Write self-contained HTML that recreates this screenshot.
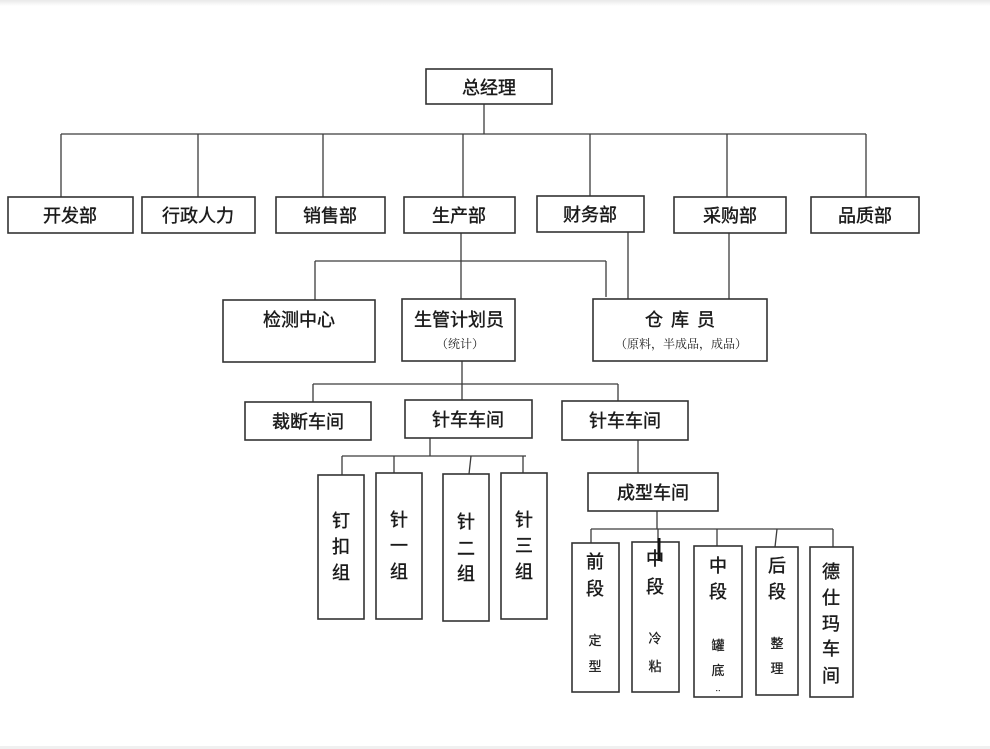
<!DOCTYPE html>
<html>
<head>
<meta charset="utf-8">
<style>
  html,body{margin:0;padding:0;background:#fff;}
  body{width:990px;height:749px;overflow:hidden;}
  svg{display:block;}
  text{font-family:"Liberation Sans","Noto Sans CJK SC",sans-serif;fill:#1a1a1a;}
  .t{font-size:18px;text-anchor:middle;stroke:#1a1a1a;stroke-width:0.4px;}
  .s{font-size:12px;text-anchor:middle;font-family:"Liberation Serif","Noto Serif CJK SC",serif;}
  .v{font-size:13px;text-anchor:middle;stroke:#1a1a1a;stroke-width:0.25px;}
</style>
</head>
<body>
<svg width="990" height="749" viewBox="0 0 990 749" xmlns="http://www.w3.org/2000/svg">
  <defs>
    <linearGradient id="tg" x1="0" y1="0" x2="0" y2="1">
      <stop offset="0" stop-color="#e9e9e9"/>
      <stop offset="1" stop-color="#ffffff"/>
    </linearGradient>
  </defs>
  <rect x="0" y="0" width="990" height="749" fill="#fff"/>
  <rect x="0" y="0" width="990" height="6" fill="url(#tg)"/>
  <rect x="0" y="746" width="990" height="3" fill="#f0f0f0"/>

  <!-- connectors -->
  <g stroke="#3c3c3c" stroke-width="1.3" fill="none">
    <line x1="484" y1="104" x2="484" y2="134"/>
    <line x1="61" y1="134" x2="866" y2="134"/>
    <line x1="61" y1="134" x2="61" y2="197"/>
    <line x1="198" y1="134" x2="198" y2="197"/>
    <line x1="323" y1="134" x2="323" y2="197"/>
    <line x1="463" y1="134" x2="463" y2="197"/>
    <line x1="590" y1="134" x2="590" y2="196"/>
    <line x1="727" y1="134" x2="727" y2="197"/>
    <line x1="866" y1="134" x2="866" y2="197"/>

    <line x1="461" y1="233" x2="461" y2="299"/>
    <line x1="315" y1="261" x2="606" y2="261"/>
    <line x1="315" y1="261" x2="315" y2="300"/>
    <line x1="606" y1="261" x2="606" y2="297"/>
    <line x1="628" y1="232" x2="628" y2="299"/>
    <line x1="729" y1="233" x2="729" y2="299"/>

    <line x1="462" y1="361" x2="462" y2="400"/>
    <line x1="313" y1="384" x2="618" y2="384"/>
    <line x1="313" y1="384" x2="313" y2="402"/>
    <line x1="618" y1="384" x2="618" y2="401"/>

    <line x1="430" y1="438" x2="430" y2="456"/>
    <line x1="342" y1="456" x2="526" y2="456"/>
    <line x1="342" y1="456" x2="342" y2="475"/>
    <line x1="394" y1="456" x2="394" y2="473"/>
    <line x1="471" y1="456" x2="469" y2="474"/>
    <line x1="523" y1="456" x2="523" y2="473"/>

    <line x1="638" y1="440" x2="638" y2="473"/>
    <line x1="657" y1="511" x2="657" y2="529"/>
    <line x1="591" y1="529" x2="833" y2="529"/>
    <line x1="591" y1="529" x2="591" y2="543"/>
    <line x1="658" y1="529" x2="658" y2="542"/>
    <line x1="717" y1="529" x2="717" y2="546"/>
    <line x1="777" y1="529" x2="775" y2="547"/>
    <line x1="833" y1="529" x2="833" y2="547"/>
  </g>

  <!-- boxes -->
  <g stroke="#333" stroke-width="1.6" fill="#fff">
    <rect x="426" y="69" width="126" height="35"/>
    <rect x="8" y="197" width="125" height="36"/>
    <rect x="142" y="197" width="113" height="36"/>
    <rect x="276" y="197" width="109" height="36"/>
    <rect x="404" y="197" width="111" height="36"/>
    <rect x="537" y="196" width="107" height="36"/>
    <rect x="674" y="197" width="112" height="36"/>
    <rect x="811" y="197" width="108" height="36"/>

    <rect x="223" y="300" width="152" height="62"/>
    <rect x="402" y="299" width="113" height="62"/>
    <rect x="593" y="299" width="174" height="62"/>

    <rect x="245" y="402" width="126" height="38"/>
    <rect x="405" y="400" width="127" height="38"/>
    <rect x="562" y="401" width="126" height="39"/>

    <rect x="318" y="475" width="46" height="144"/>
    <rect x="376" y="473" width="46" height="146"/>
    <rect x="443" y="474" width="46" height="147"/>
    <rect x="501" y="473" width="46" height="146"/>

    <rect x="588" y="473" width="130" height="38"/>

    <rect x="572" y="543" width="47" height="149"/>
    <rect x="632" y="542" width="47" height="150"/>
    <rect x="694" y="546" width="48" height="151"/>
    <rect x="756" y="547" width="42" height="148"/>
    <rect x="810" y="547" width="43" height="150"/>
  </g>
  <line x1="659" y1="538" x2="659" y2="561" stroke="#111" stroke-width="3"/>

  <!-- labels -->
  <text class="t" x="489" y="94">总经理</text>

  <text class="t" x="70" y="222">开发部</text>
  <text class="t" x="198" y="222">行政人力</text>
  <text class="t" x="330" y="222">销售部</text>
  <text class="t" x="459" y="222">生产部</text>
  <text class="t" x="590" y="221">财务部</text>
  <text class="t" x="730" y="222">采购部</text>
  <text class="t" x="865" y="222">品质部</text>

  <text class="t" x="299" y="326">检测中心</text>
  <text class="t" x="459" y="326">生管计划员</text>
  <text class="s" x="460" y="348">（统计）</text>
  <text class="t" x="654" y="326">仓</text>
  <text class="t" x="680" y="326">库</text>
  <text class="t" x="706" y="326">员</text>
  <text class="s" x="681" y="348">（原料，半成品，成品）</text>

  <text class="t" x="308" y="428">裁断车间</text>
  <text class="t" x="468" y="426">针车车间</text>
  <text class="t" x="625" y="427">针车车间</text>

  <!-- vertical group labels -->
  <text class="t" x="341" y="527">钉</text>
  <text class="t" x="341" y="553">扣</text>
  <text class="t" x="341" y="579">组</text>

  <text class="t" x="399" y="526">针</text>
  <text class="t" x="399" y="552">一</text>
  <text class="t" x="399" y="578">组</text>

  <text class="t" x="466" y="528">针</text>
  <text class="t" x="466" y="555">二</text>
  <text class="t" x="466" y="580">组</text>

  <text class="t" x="524" y="526">针</text>
  <text class="t" x="524" y="552">三</text>
  <text class="t" x="524" y="578">组</text>

  <text class="t" x="653" y="499">成型车间</text>

  <text class="t" x="595" y="568">前</text>
  <text class="t" x="595" y="595">段</text>
  <text class="v" x="595" y="645">定</text>
  <text class="v" x="595" y="671">型</text>

  <text class="t" x="655" y="565">中</text>
  <text class="t" x="655" y="593">段</text>
  <text class="v" x="655" y="643">冷</text>
  <text class="v" x="655" y="671">粘</text>

  <text class="t" x="718" y="572">中</text>
  <text class="t" x="718" y="598">段</text>
  <text class="v" x="718" y="650">罐</text>
  <text class="v" x="718" y="675">底</text>
  <text class="v" x="718" y="693" style="font-size:8px">··</text>

  <text class="t" x="777" y="572">后</text>
  <text class="t" x="777" y="598">段</text>
  <text class="v" x="777" y="648">整</text>
  <text class="v" x="777" y="673">理</text>

  <text class="t" x="831" y="578">德</text>
  <text class="t" x="831" y="604">仕</text>
  <text class="t" x="831" y="630">玛</text>
  <text class="t" x="831" y="655">车</text>
  <text class="t" x="831" y="682">间</text>
</svg>
</body>
</html>
